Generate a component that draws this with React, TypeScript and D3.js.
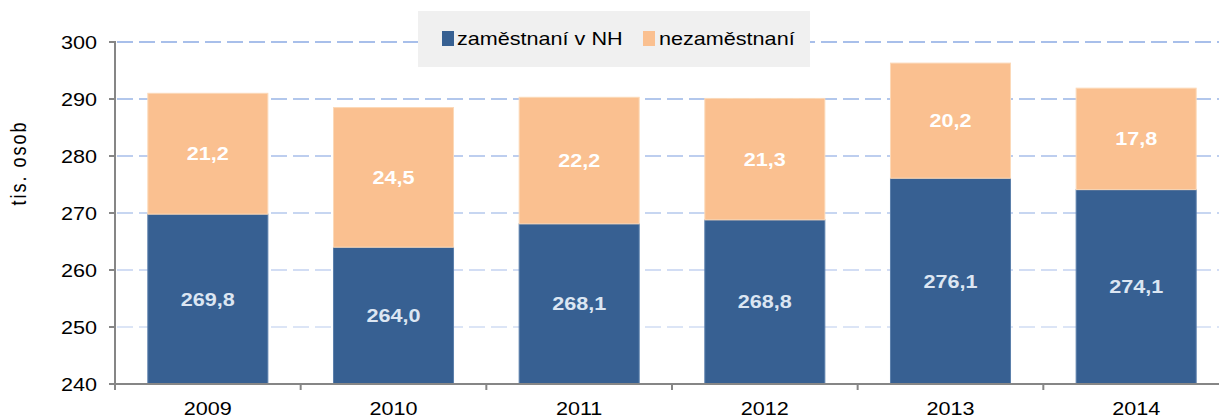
import React from "react";
import * as d3 from "d3";

const years = ["2009", "2010", "2011", "2012", "2013", "2014"];
const employed = [269.8, 264.0, 268.1, 268.8, 276.1, 274.1];
const unemployed = [21.2, 24.5, 22.2, 21.3, 20.2, 17.8];
const yTicks = [240, 250, 260, 270, 280, 290, 300];
const seriesNames = ["zaměstnaní v NH", "nezaměstnaní"];

const W = 1219;
const H = 419;
const BLUE = "#376092";
const ORANGE = "#FAC090";
const AXIS = "#868686";
const FONT = "'Liberation Sans', Arial, sans-serif";
const SX = 1.2;

const fmt = (v: number) => v.toFixed(1).replace(".", ",");

function T({ x, y, children, anchor = "middle", size = 18, weight = "normal", fill = "#000", rotate = 0, ls = 0 }: any) {
  return (
    <text
      transform={`translate(${x},${y}) scale(${SX},1)${rotate ? ` rotate(${rotate})` : ""}`}
      textAnchor={anchor}
      fontFamily={FONT}
      fontSize={size}
      fontWeight={weight}
      fill={fill}
      letterSpacing={ls}
    >
      {children}
    </text>
  );
}

export default function App() {
  const x0 = 115;
  const x1 = 1229;
  const y = d3.scaleLinear().domain([240, 300]).range([384, 42]);
  const x = d3.scaleBand<string>().domain(years).range([x0, x1]).paddingInner(0.3535).paddingOuter(0.1768);
  const step = x.step();
  const gridColor = d3.scaleLinear<string>().domain([250, 300]).range(["#dce5f6", "#a8bfea"]);

  return (
    <svg width={W} height={H} style={{ position: "absolute", left: 0, top: 0, background: "#fff" }}>
      {/* gridlines */}
      {yTicks.filter((t) => t > 240).map((t) => (
        <line key={t} x1={x0 + 2} x2={W} y1={y(t)} y2={y(t)} stroke={gridColor(t)} strokeWidth={2} strokeDasharray="16 6" />
      ))}
      {/* bars */}
      {years.map((yr, i) => {
        const bx = x(yr)!;
        const e = employed[i];
        const u = unemployed[i];
        return (
          <g key={yr}>
            <rect x={bx} y={y(e)} width={x.bandwidth()} height={y(240) - y(e)} fill={BLUE} stroke="#5b7fab" strokeWidth={1} />
            <rect x={bx} y={y(e + u)} width={x.bandwidth()} height={y(e) - y(e + u)} fill={ORANGE} stroke="#fcd9b8" strokeWidth={1} />
            <T x={bx + x.bandwidth() / 2} y={(y(e) + y(240)) / 2 + 6.5} weight="bold" fill="#dce6f2">{fmt(e)}</T>
            <T x={bx + x.bandwidth() / 2} y={(y(e + u) + y(e)) / 2 + 6.5} weight="bold" fill="#ffffff">{fmt(u)}</T>
          </g>
        );
      })}
      {/* axes */}
      <line x1={x0} x2={x0} y1={y(300) - 1} y2={y(240) + 1} stroke={AXIS} strokeWidth={2} />
      <line x1={x0} x2={W} y1={y(240)} y2={y(240)} stroke={AXIS} strokeWidth={2} />
      {yTicks.map((t) => (
        <g key={t}>
          <line x1={x0 - 6} x2={x0} y1={y(t)} y2={y(t)} stroke={AXIS} strokeWidth={2} />
          <T x={97} y={y(t) + 6.5} anchor="end">{t}</T>
        </g>
      ))}
      {years.map((yr, i) => (
        <line key={"xt" + i} x1={x0 + i * step} x2={x0 + i * step} y1={y(240)} y2={y(240) + 6} stroke={AXIS} strokeWidth={2} />
      ))}
      {years.map((yr) => (
        <T key={"xl" + yr} x={x(yr)! + x.bandwidth() / 2} y={415}>{yr}</T>
      ))}
      {/* y title */}
      <T x={26} y={163} rotate={-90} ls={2}>tis. osob</T>
      {/* legend */}
      <rect x={418} y={11} width={392} height={56} fill="#f0f0f0" />
      <rect x={442} y={31} width={12} height={15} fill={BLUE} />
      <T x={457} y={45} anchor="start">{seriesNames[0]}</T>
      <rect x={643} y={31} width={12} height={15} fill={ORANGE} />
      <T x={659} y={45} anchor="start">{seriesNames[1]}</T>
    </svg>
  );
}
